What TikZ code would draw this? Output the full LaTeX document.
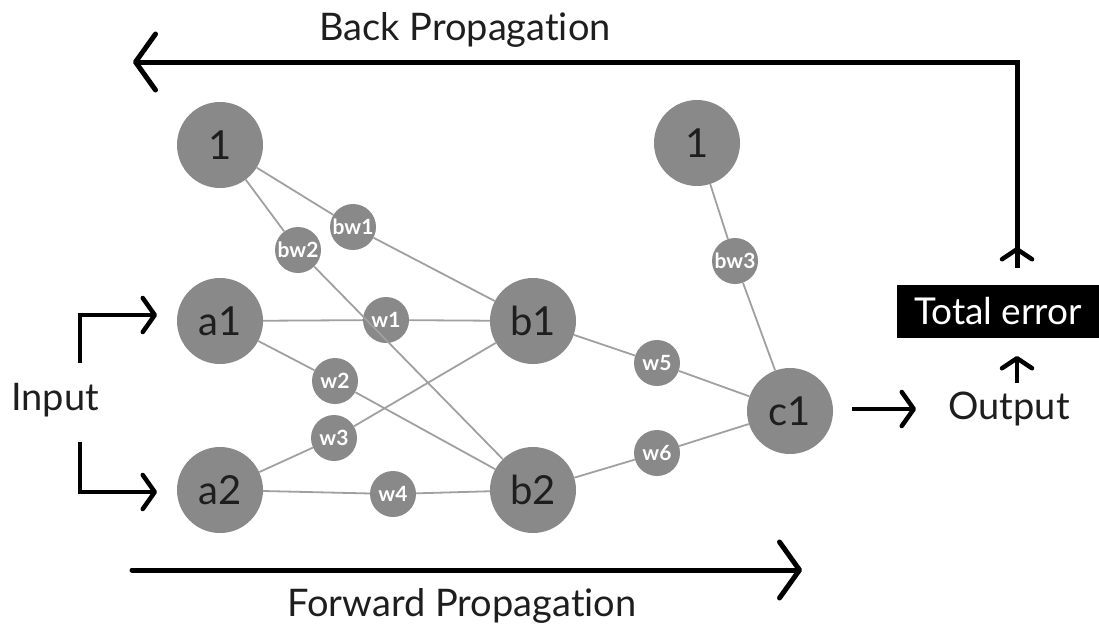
\documentclass[tikz,border=0pt]{standalone}
\usepackage{fontspec}
\setmainfont{Lato}[Ligatures={NoCommon,NoDiscretionary}]
\usetikzlibrary{arrows.meta}
\definecolor{nodegray}{HTML}{898989}
\definecolor{edgegray}{HTML}{A0A0A0}
\definecolor{inkdark}{HTML}{1E1E1E}
\begin{document}
\begin{tikzpicture}[x=1pt,y=-1pt,
  bignode/.style={circle,fill=nodegray,minimum size=86pt,inner sep=0pt,
    text=inkdark,font=\fontsize{40}{42}\selectfont},
  wnode/.style={circle,fill=nodegray,minimum size=46pt,inner sep=0pt,
    text=white,font=\bfseries\fontsize{21}{22}\selectfont},
  edge/.style={draw=edgegray,line width=1.8pt},
  bigarrow/.style={line width=5pt,line cap=round,
    -{Straight Barb[length=20pt,width=56pt,line width=5pt,round]}},
  smallarrow/.style={line width=4.5pt,
    -{Straight Barb[length=12pt,width=34pt,line width=4.5pt,round]}},
  tinyarrow/.style={line width=4.5pt,
    -{Straight Barb[length=10pt,width=30pt,line width=4.5pt,round]}},
  label/.style={text=inkdark,font=\fontsize{38}{40}\selectfont},
]
\useasboundingbox (0,0) rectangle (1099,635);

% weight nodes
\node[wnode] (bw1) at (353,227) {bw1};
\node[wnode] (bw2) at (298,250) {bw2};
\node[wnode] (w1)  at (386,320) {w1};
\node[wnode] (w2)  at (335,381) {w2};
\node[wnode] (w3)  at (334,438) {w3};
\node[wnode] (w4)  at (393,494) {w4};
\node[wnode] (w5)  at (657,363) {w5};
\node[wnode] (w6)  at (657,453) {w6};
\node[wnode] (bw3) at (735,261) {bw3};

% neurons
\node[bignode] (one1) at (220,145) {1};
\node[bignode] (a1)   at (220,321) {a1};
\node[bignode] (a2)   at (220,490) {a2};
\node[bignode] (b1)   at (533,321) {b1};
\node[bignode] (b2)   at (533,490) {b2};
\node[bignode] (one2) at (697,143) {1};
\node[bignode] (c1)   at (790,411) {c1};

% connections, each passing through its weight node
\draw[edge] (one1) -- (bw1);  \draw[edge] (bw1) -- (b1);
\draw[edge] (one1) -- (bw2);  \draw[edge] (bw2) -- (b2);
\draw[edge] (a1) -- (w1);     \draw[edge] (w1) -- (b1);
\draw[edge] (a1) -- (w2);     \draw[edge] (w2) -- (b2);
\draw[edge] (a2) -- (w3);     \draw[edge] (w3) -- (b1);
\draw[edge] (a2) -- (w4);     \draw[edge] (w4) -- (b2);
\draw[edge] (b1) -- (w5);     \draw[edge] (w5) -- (c1);
\draw[edge] (b2) -- (w6);     \draw[edge] (w6) -- (c1);
\draw[edge] (one2) -- (bw3);  \draw[edge] (bw3) -- (c1);

% input
\node[label] (input) at (55,400) {Input};
\coordinate (inup) at (80,363);
\coordinate (indn) at (80,442);
\coordinate (a1in) at (157,315);
\coordinate (a2in) at (157,492);
\draw[smallarrow] (inup) |- (a1in);
\draw[smallarrow] (indn) |- (a2in);

% output and error
\node[label] (output) at (1009,409) {Output};
\coordinate (c1out) at (852,409);
\coordinate (outin) at (916,409);
\draw[smallarrow] (c1out) -- (outin);
\node[fill=black,text=white,font=\fontsize{37}{40}\selectfont,
  minimum width=202pt,minimum height=53pt,inner sep=0pt] (err) at (998,311) {Total error};
\coordinate (outtop) at (1017,383);
\coordinate (errbot) at (1017,356);
\draw[tinyarrow] (outtop) -- (errbot);
\coordinate (errtop) at (1017,268);
\coordinate (errtip) at (1017,247);
\draw[tinyarrow] (errtop) -- (errtip);

% back propagation
\coordinate (bpl) at (133,62);
\draw[bigarrow,line cap=butt] (errtop) |- (bpl);
\node[label] (bp) at (465,30) {Back Propagation};

% forward propagation
\coordinate (fps) at (132,570);
\coordinate (fpe) at (802,570);
\draw[bigarrow] (fps) -- (fpe);
\node[label] (fp) at (462,606) {Forward Propagation};
\end{tikzpicture}
\end{document}
